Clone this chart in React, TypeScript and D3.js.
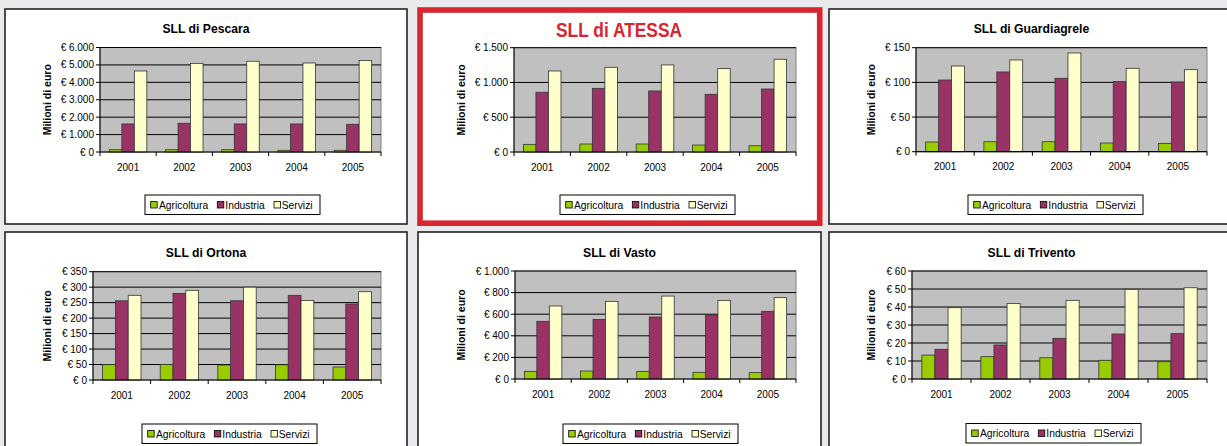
import React from "react";
import * as d3 from "d3";

const years = ["2001", "2002", "2003", "2004", "2005"];
const seriesNames = ["Agricoltura", "Industria", "Servizi"];
const seriesColors = ["#99cc00", "#993366", "#ffffcc"];

const pescaraAgri = [130, 130, 130, 100, 100];
const pescaraInd = [1610, 1650, 1610, 1610, 1590];
const pescaraServ = [4650, 5090, 5210, 5110, 5260];

const atessaAgri = [110, 115, 115, 100, 90];
const atessaInd = [859, 916, 878, 830, 906];
const atessaServ = [1165, 1218, 1252, 1199, 1334];

const guardiaAgri = [14, 14.4, 14.4, 12.5, 12];
const guardiaInd = [103.4, 115, 105.9, 101, 100.5];
const guardiaServ = [123.6, 132.3, 142.4, 120.3, 118.3];

const ortonaAgri = [49.5, 50.5, 48.4, 49, 42];
const ortonaInd = [256, 280, 256, 273.7, 245.6];
const ortonaServ = [273.7, 289.8, 300, 257, 285.3];

const vastoAgri = [71, 74, 71, 62, 59];
const vastoInd = [534, 552, 574, 593, 627];
const vastoServ = [676, 719, 768, 728, 753];

const triventoAgri = [13.3, 12.4, 11.8, 10.4, 9.6];
const triventoInd = [16.5, 18.9, 22.6, 25, 25.2];
const triventoServ = [39.6, 42.0, 43.7, 49.8, 50.7];

const pescaraTicks = [0, 1000, 2000, 3000, 4000, 5000, 6000];
const atessaTicks = [0, 500, 1000, 1500];
const guardiaTicks = [0, 50, 100, 150];
const ortonaTicks = [0, 50, 100, 150, 200, 250, 300, 350];
const vastoTicks = [0, 200, 400, 600, 800, 1000];
const triventoTicks = [0, 10, 20, 30, 40, 50, 60];

const locale = d3.formatLocale({ decimal: ",", thousands: ".", grouping: [3], currency: ["€ ", ""] });
const fmt = locale.format(",.0f");

const FONT = "'Liberation Sans', Arial, Helvetica, sans-serif";

type Panel = {
  title: string;
  data: number[][];
  ticks: number[];
  box: { x: number; y: number; w: number; h: number };
  plot: { l: number; t: number; r: number; b: number };
  legend: { x: number; y: number };
  titleY: number;
  yLabelX: number;
  highlight?: boolean;
};

const panels: Panel[] = [
  {
    title: "SLL di Pescara",
    data: [pescaraAgri, pescaraInd, pescaraServ],
    ticks: pescaraTicks,
    box: { x: 5, y: 9, w: 402, h: 215 },
    plot: { l: 100, t: 47.5, r: 381, b: 152 },
    legend: { x: 145, y: 195 },
    titleY: 33.3,
    yLabelX: 51,
  },
  {
    title: "SLL di ATESSA",
    data: [atessaAgri, atessaInd, atessaServ],
    ticks: atessaTicks,
    box: { x: 418, y: 9, w: 403, h: 215 },
    plot: { l: 514, t: 47.7, r: 796, b: 152 },
    legend: { x: 560, y: 195 },
    titleY: 37,
    yLabelX: 464.5,
    highlight: true,
  },
  {
    title: "SLL di Guardiagrele",
    data: [guardiaAgri, guardiaInd, guardiaServ],
    ticks: guardiaTicks,
    box: { x: 829, y: 9, w: 405, h: 215 },
    plot: { l: 916, t: 47.7, r: 1207, b: 151.7 },
    legend: { x: 968, y: 195 },
    titleY: 33.3,
    yLabelX: 874.5,
  },
  {
    title: "SLL di Ortona",
    data: [ortonaAgri, ortonaInd, ortonaServ],
    ticks: ortonaTicks,
    box: { x: 5, y: 232, w: 402, h: 222 },
    plot: { l: 93, t: 271.7, r: 381, b: 380 },
    legend: { x: 142, y: 424 },
    titleY: 256.7,
    yLabelX: 50.5,
  },
  {
    title: "SLL di Vasto",
    data: [vastoAgri, vastoInd, vastoServ],
    ticks: vastoTicks,
    box: { x: 418, y: 232, w: 403, h: 222 },
    plot: { l: 515, t: 271, r: 796, b: 379 },
    legend: { x: 563, y: 424 },
    titleY: 256.7,
    yLabelX: 464.5,
  },
  {
    title: "SLL di Trivento",
    data: [triventoAgri, triventoInd, triventoServ],
    ticks: triventoTicks,
    box: { x: 829, y: 232, w: 405, h: 222 },
    plot: { l: 912, t: 271, r: 1207, b: 379 },
    legend: { x: 966, y: 423.5 },
    titleY: 256.7,
    yLabelX: 874.5,
  },
];

function Chart({ p }: { p: Panel }) {
  const { plot } = p;
  const yMax = p.ticks[p.ticks.length - 1];
  const y = d3.scaleLinear().domain([0, yMax]).range([plot.b, plot.t]);
  const x = d3.scaleBand().domain(years).range([plot.l, plot.r]).paddingInner(0).paddingOuter(0);
  const bw = x.bandwidth() / 4.5;
  const cx = p.box.x + p.box.w / 2;
  const legendOffsets = [
    { sw: 5.7, tx: 14 },
    { sw: 72.3, tx: 80.3 },
    { sw: 129, tx: 136.7 },
  ];
  return (
    <g>
      {p.highlight ? (
        <rect x={420} y={10} width={399.7} height={213.2} fill="#ffffff" stroke="#d7262f" strokeWidth={5.6} />
      ) : (
        <rect x={p.box.x} y={p.box.y} width={p.box.w} height={p.box.h} fill="#ffffff" stroke="#222" strokeWidth={1.6} />
      )}
      {p.highlight ? (
        <text
          x={cx - 0.5}
          y={p.titleY}
          textAnchor="middle"
          fontFamily="'Liberation Sans Narrow', 'Arial Narrow', 'Liberation Sans', Arial, sans-serif"
          fontWeight="bold"
          fontSize={19.5}
          fill="#d7262f"
          textLength={126}
          lengthAdjust="spacingAndGlyphs"
        >
          {p.title}
        </text>
      ) : (
        <text x={cx} y={p.titleY} textAnchor="middle" fontFamily={FONT} fontWeight="bold" fontSize={12.2} fill="#000">
          {p.title}
        </text>
      )}
      <rect x={plot.l} y={plot.t} width={plot.r - plot.l} height={plot.b - plot.t} fill="#c0c0c0" stroke="#808080" strokeWidth={1} />
      {p.ticks.map((t) =>
        t === 0 ? null : (
          <line key={"g" + t} x1={plot.l} x2={plot.r} y1={y(t)} y2={y(t)} stroke="#000" strokeWidth={1} />
        )
      )}
      {years.map((yr, i) =>
        p.data.map((vals, s) => {
          const x0 = (x(yr) as number) + bw * 0.75 + s * bw;
          return (
            <rect
              key={yr + s}
              x={x0}
              y={y(vals[i])}
              width={bw}
              height={plot.b - y(vals[i])}
              fill={seriesColors[s]}
              stroke="#333"
              strokeWidth={0.8}
            />
          );
        })
      )}
      <line x1={plot.l} x2={plot.l} y1={plot.t} y2={plot.b} stroke="#000" strokeWidth={1} />
      <line x1={plot.l} x2={plot.r} y1={plot.b} y2={plot.b} stroke="#000" strokeWidth={1.2} />
      {p.ticks.map((t) => (
        <g key={"t" + t}>
          <line x1={plot.l - 4} x2={plot.l} y1={y(t)} y2={y(t)} stroke="#000" strokeWidth={1} />
          <text x={plot.l - 6} y={y(t)} dy="0.35em" textAnchor="end" fontFamily={FONT} fontSize={10} fill="#000">
            {"€ " + fmt(t)}
          </text>
        </g>
      ))}
      {[...years.map((yr) => x(yr) as number), plot.r].map((xx, i) => (
        <line key={"xt" + i} x1={xx} x2={xx} y1={plot.b} y2={plot.b + 4} stroke="#000" strokeWidth={1} />
      ))}
      {years.map((yr) => (
        <text
          key={"xl" + yr}
          x={(x(yr) as number) + x.bandwidth() / 2}
          y={plot.b + 18.5}
          textAnchor="middle"
          fontFamily={FONT}
          fontSize={10}
          fill="#000"
        >
          {yr}
        </text>
      ))}
      <text
        transform={`translate(${p.yLabelX},${(plot.t + plot.b) / 2}) rotate(-90)`}
        textAnchor="middle"
        fontFamily={FONT}
        fontWeight="bold"
        fontSize={10.5}
        fill="#000"
      >
        Milioni di euro
      </text>
      <g transform={`translate(${p.legend.x},${p.legend.y})`}>
        <rect x={0} y={0} width={175} height={19.5} fill="#fff" stroke="#000" strokeWidth={1} />
        {seriesNames.map((name, s) => (
          <g key={name}>
            <rect x={legendOffsets[s].sw} y={6.5} width={6.5} height={6.5} fill={seriesColors[s]} stroke="#000" strokeWidth={0.8} />
            <text x={legendOffsets[s].tx} y={13.8} fontFamily={FONT} fontSize={10.3} fill="#000">
              {name}
            </text>
          </g>
        ))}
      </g>
    </g>
  );
}

export default function App() {
  return (
    <svg
      width={1227}
      height={446}
      style={{ position: "absolute", left: 0, top: 0, display: "block" }}
      xmlns="http://www.w3.org/2000/svg"
    >
      <rect x={0} y={0} width={1227} height={446} fill="#eaeaec" />
      {panels.map((p) => (
        <Chart key={p.title} p={p} />
      ))}
    </svg>
  );
}
